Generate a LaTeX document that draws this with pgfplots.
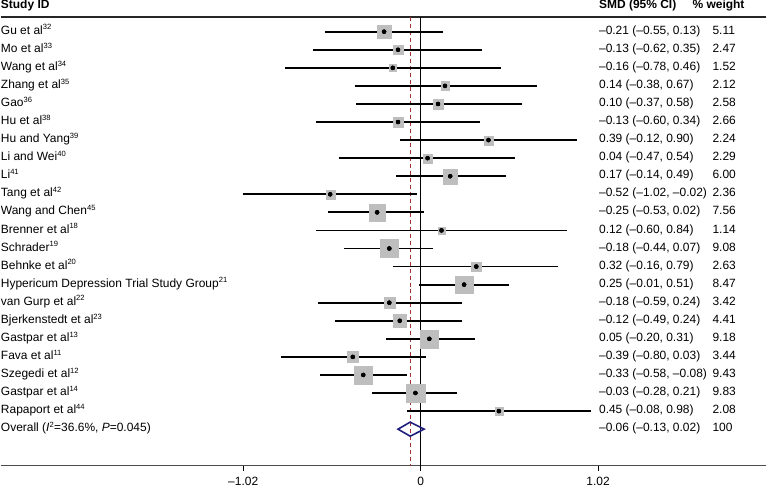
\documentclass[border=0pt]{standalone}
\usepackage{pgfplots}
\pgfplotsset{compat=1.18}
\usepackage{pgfplotstable}
\usepackage{fontspec}
\setmainfont{Liberation Sans}

\definecolor{sqgray}{RGB}{190,190,190}
\definecolor{navy}{RGB}{30,30,125}
\definecolor{dashred}{RGB}{165,50,50}

% row, SMD, lower, upper, weight
\pgfplotstableread{
row est lo hi w
1 -0.21 -0.55 0.13 5.11
2 -0.13 -0.62 0.35 2.47
3 -0.16 -0.78 0.46 1.52
4 0.14 -0.38 0.67 2.12
5 0.10 -0.37 0.58 2.58
6 -0.13 -0.60 0.34 2.66
7 0.39 -0.12 0.90 2.24
8 0.04 -0.47 0.54 2.29
9 0.17 -0.14 0.49 6.00
10 -0.52 -1.02 -0.02 2.36
11 -0.25 -0.53 0.02 7.56
12 0.12 -0.60 0.84 1.14
13 -0.18 -0.44 0.07 9.08
14 0.32 -0.16 0.79 2.63
15 0.25 -0.01 0.51 8.47
16 -0.18 -0.59 0.24 3.42
17 -0.12 -0.49 0.24 4.41
18 0.05 -0.20 0.31 9.18
19 -0.39 -0.80 0.03 3.44
20 -0.33 -0.58 -0.08 9.43
21 -0.03 -0.28 0.21 9.83
22 0.45 -0.08 0.98 2.08
}\studies

\newcommand{\fs}{\fontsize{12}{14}\selectfont}
\newcommand{\sps}[1]{\textsuperscript{\fontsize{7.6}{8}\selectfont #1}}

\begin{document}
\begin{tikzpicture}[
  lab/.style={anchor=mid west, inner sep=0pt, font=\fs},
  hd/.style={anchor=mid west, inner sep=0pt, font=\fs\bfseries}]
\begin{axis}[
  width=767pt, height=467.5pt, scale only axis,
  xmin=-2.4137, xmax=1.9868,
  ymin=-0.8066, ymax=25.02, y dir=reverse,
  axis x line=bottom, axis y line=none,
  axis line style={-, gray!60!black, line width=1.5pt},
  xtick={-1.02,0,1.02}, xticklabels={–1.02,0,1.02},
  ytick=\empty,
  tick align=outside, major tick length=5pt,
  tick style={black, line width=0.8pt},
  xticklabel style={font=\fs, yshift=-3pt},
  clip=false,
]
% reference lines
\addplot[black!85, line width=1.2pt] coordinates {(-2.4137,0.188) (1.9868,0.188)};
\addplot[black, line width=0.9pt] coordinates {(0,0.188) (0,25.02)};
\addplot[dashred, line width=0.9pt, dash pattern=on 4pt off 3pt] coordinates {(-0.06,0.188) (-0.06,25.02)};

% weight boxes
\addplot[scatter, only marks, mark=square*,
  scatter/use mapped color={draw=sqgray, fill=sqgray},
  mark options={line width=0.1pt},
  visualization depends on={3.0*sqrt(\thisrow{w}) \as \msz},
  scatter/@pre marker code/.append style={/tikz/mark size=\msz}]
  table[x=est, y=row] {\studies};

% confidence intervals
\addplot[only marks, mark=none,
  error bars/.cd, x dir=both, x explicit, error mark=none,
  error bar style={black, line width=1.8pt}]
  table[x=est, y=row,
    x error plus expr=\thisrow{hi}-\thisrow{est},
    x error minus expr=\thisrow{est}-\thisrow{lo}] {\studies};

% point estimates
\addplot[only marks, mark=*, mark size=2pt, black] table[x=est, y=row] {\studies};

% overall diamond
\addplot[navy, line width=1.6pt, line join=miter] coordinates
  {(-0.13,23) (-0.06,22.61) (0.02,23) (-0.06,23.39) (-0.13,23) (-0.06,22.61)};

% headers
\node[hd] at (axis cs:-2.4137,-0.42) {Study ID};
\node[hd] at (axis cs:1.0247,-0.42) {SMD (95\% CI)};
\node[hd] at (axis cs:1.562,-0.42) {\% weight};

% study names
\node[lab] at (axis cs:-2.4137,1) {Gu et al\sps{32}};
\node[lab] at (axis cs:-2.4137,2) {Mo et al\sps{33}};
\node[lab] at (axis cs:-2.4137,3) {Wang et al\sps{34}};
\node[lab] at (axis cs:-2.4137,4) {Zhang et al\sps{35}};
\node[lab] at (axis cs:-2.4137,5) {Gao\sps{36}};
\node[lab] at (axis cs:-2.4137,6) {Hu et al\sps{38}};
\node[lab] at (axis cs:-2.4137,7) {Hu and Yang\sps{39}};
\node[lab] at (axis cs:-2.4137,8) {Li and Wei\sps{40}};
\node[lab] at (axis cs:-2.4137,9) {Li\sps{41}};
\node[lab] at (axis cs:-2.4137,10) {Tang et al\sps{42}};
\node[lab] at (axis cs:-2.4137,11) {Wang and Chen\sps{45}};
\node[lab] at (axis cs:-2.4137,12) {Brenner et al\sps{18}};
\node[lab] at (axis cs:-2.4137,13) {Schrader\sps{19}};
\node[lab] at (axis cs:-2.4137,14) {Behnke et al\sps{20}};
\node[lab] at (axis cs:-2.4137,15) {Hypericum Depression Trial Study Group\sps{21}};
\node[lab] at (axis cs:-2.4137,16) {van Gurp et al\sps{22}};
\node[lab] at (axis cs:-2.4137,17) {Bjerkenstedt et al\sps{23}};
\node[lab] at (axis cs:-2.4137,18) {Gastpar et al\sps{13}};
\node[lab] at (axis cs:-2.4137,19) {Fava et al\sps{11}};
\node[lab] at (axis cs:-2.4137,20) {Szegedi et al\sps{12}};
\node[lab] at (axis cs:-2.4137,21) {Gastpar et al\sps{14}};
\node[lab] at (axis cs:-2.4137,22) {Rapaport et al\sps{44}};
\node[lab] at (axis cs:-2.4137,23) {Overall (\textit{I}\sps{2}=36.6\%, \textit{P}=0.045)};

% SMD (95% CI)
\node[lab] at (axis cs:1.0247,1) {–0.21 (–0.55, 0.13)};
\node[lab] at (axis cs:1.0247,2) {–0.13 (–0.62, 0.35)};
\node[lab] at (axis cs:1.0247,3) {–0.16 (–0.78, 0.46)};
\node[lab] at (axis cs:1.0247,4) {0.14 (–0.38, 0.67)};
\node[lab] at (axis cs:1.0247,5) {0.10 (–0.37, 0.58)};
\node[lab] at (axis cs:1.0247,6) {–0.13 (–0.60, 0.34)};
\node[lab] at (axis cs:1.0247,7) {0.39 (–0.12, 0.90)};
\node[lab] at (axis cs:1.0247,8) {0.04 (–0.47, 0.54)};
\node[lab] at (axis cs:1.0247,9) {0.17 (–0.14, 0.49)};
\node[lab] at (axis cs:1.0247,10) {–0.52 (–1.02, –0.02)};
\node[lab] at (axis cs:1.0247,11) {–0.25 (–0.53, 0.02)};
\node[lab] at (axis cs:1.0247,12) {0.12 (–0.60, 0.84)};
\node[lab] at (axis cs:1.0247,13) {–0.18 (–0.44, 0.07)};
\node[lab] at (axis cs:1.0247,14) {0.32 (–0.16, 0.79)};
\node[lab] at (axis cs:1.0247,15) {0.25 (–0.01, 0.51)};
\node[lab] at (axis cs:1.0247,16) {–0.18 (–0.59, 0.24)};
\node[lab] at (axis cs:1.0247,17) {–0.12 (–0.49, 0.24)};
\node[lab] at (axis cs:1.0247,18) {0.05 (–0.20, 0.31)};
\node[lab] at (axis cs:1.0247,19) {–0.39 (–0.80, 0.03)};
\node[lab] at (axis cs:1.0247,20) {–0.33 (–0.58, –0.08)};
\node[lab] at (axis cs:1.0247,21) {–0.03 (–0.28, 0.21)};
\node[lab] at (axis cs:1.0247,22) {0.45 (–0.08, 0.98)};
\node[lab] at (axis cs:1.0247,23) {–0.06 (–0.13, 0.02)};

% weights
\node[lab] at (axis cs:1.677,1) {5.11};
\node[lab] at (axis cs:1.677,2) {2.47};
\node[lab] at (axis cs:1.677,3) {1.52};
\node[lab] at (axis cs:1.677,4) {2.12};
\node[lab] at (axis cs:1.677,5) {2.58};
\node[lab] at (axis cs:1.677,6) {2.66};
\node[lab] at (axis cs:1.677,7) {2.24};
\node[lab] at (axis cs:1.677,8) {2.29};
\node[lab] at (axis cs:1.677,9) {6.00};
\node[lab] at (axis cs:1.677,10) {2.36};
\node[lab] at (axis cs:1.677,11) {7.56};
\node[lab] at (axis cs:1.677,12) {1.14};
\node[lab] at (axis cs:1.677,13) {9.08};
\node[lab] at (axis cs:1.677,14) {2.63};
\node[lab] at (axis cs:1.677,15) {8.47};
\node[lab] at (axis cs:1.677,16) {3.42};
\node[lab] at (axis cs:1.677,17) {4.41};
\node[lab] at (axis cs:1.677,18) {9.18};
\node[lab] at (axis cs:1.677,19) {3.44};
\node[lab] at (axis cs:1.677,20) {9.43};
\node[lab] at (axis cs:1.677,21) {9.83};
\node[lab] at (axis cs:1.677,22) {2.08};
\node[lab] at (axis cs:1.677,23) {100};
\end{axis}
\end{tikzpicture}
\end{document}
